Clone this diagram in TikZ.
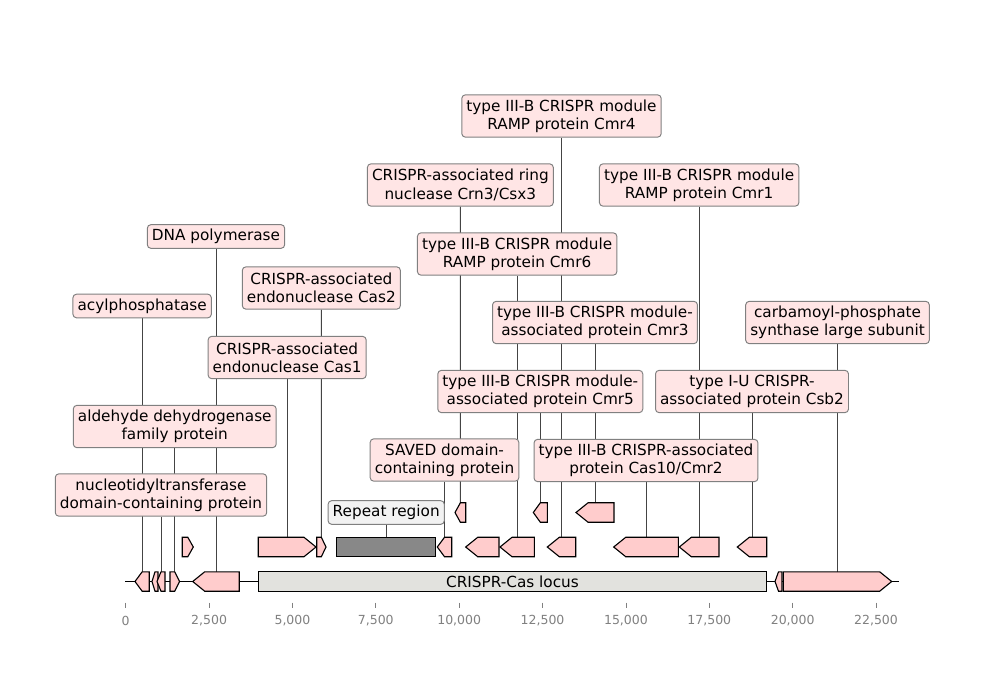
\documentclass[tikz,border=0pt]{standalone}
\usepackage{fontspec}
\setmainfont{DejaVu Sans}
\pgfdeclarelayer{background}
\pgfsetlayers{background,main}
\definecolor{genefill}{HTML}{FFCCCC}
\definecolor{labfill}{HTML}{FFE5E5}
\definecolor{labedge}{HTML}{808080}
\definecolor{repfill}{HTML}{888888}
\definecolor{replab}{HTML}{F2F2F2}
\definecolor{locusfill}{HTML}{E2E2DE}
\definecolor{conncol}{HTML}{444444}
\definecolor{tickcol}{HTML}{808080}
\tikzset{
  lab/.style={draw=labedge, fill=labfill, rounded corners=2.5pt, inner xsep=3.3pt, inner ysep=0pt,
    align=center, font=\fontsize{11}{13.2}\selectfont, line width=0.7pt},
  labone/.style={lab, minimum height=17pt},
  labtwo/.style={lab, minimum height=30.4pt},
  gene/.style={draw=black, fill=genefill, line width=0.8pt, line join=miter},
  conn/.style={draw=conncol, line width=0.6pt},
  ticklab/.style={text=tickcol, font=\fontsize{9}{10}\selectfont, inner sep=0pt},
}
\newcommand{\geneL}[4]{%
  \pgfmathsetmacro\gHd{min(12,0.5*(#3-#2))}%
  \draw[gene] (#3,#4-9.7) -- ({#2+\gHd},#4-9.7) -- (#2,#4) -- ({#2+\gHd},#4+9.7) -- (#3,#4+9.7) -- cycle;
  \coordinate (#1) at ({(#2+#3)/2},#4-9.7);}
\newcommand{\geneR}[4]{%
  \pgfmathsetmacro\gHd{min(12,0.5*(#3-#2))}%
  \draw[gene] (#2,#4-9.7) -- ({#3-\gHd},#4-9.7) -- (#3,#4) -- ({#3-\gHd},#4+9.7) -- (#2,#4+9.7) -- cycle;
  \coordinate (#1) at ({(#2+#3)/2},#4-9.7);}
\begin{document}
\begin{tikzpicture}[x=0.72pt,y=-0.72pt]
\useasboundingbox (0,0) rectangle (1000,680);

% labels
\node[labone] (L1) at (142.15,306) {acylphosphatase};
\node[labtwo] (L2) at (161,495) {nucleotidyltransferase\\domain-containing protein};
\node[labtwo] (L3) at (174.75,426.5) {aldehyde dehydrogenase\\family protein};
\node[labone] (L4) at (216,236.5) {DNA polymerase};
\node[labtwo] (L5) at (287.15,357.5) {CRISPR-associated\\endonuclease Cas1};
\node[labtwo] (L6) at (321.35,288) {CRISPR-associated\\endonuclease Cas2};
\node[labone, fill=replab] (L7) at (386.2,512.5) {Repeat region};
\node[labtwo] (L8) at (444.5,460) {SAVED domain-\\containing protein};
\node[labtwo] (L9) at (460.35,185) {CRISPR-associated ring\\nuclease Crn3/Csx3};
\node[labtwo] (L10) at (517.15,254) {type III-B CRISPR module\\RAMP protein Cmr6};
\node[labtwo] (L11) at (561.5,116) {type III-B CRISPR module\\RAMP protein Cmr4};
\node[labtwo] (L12) at (540.3,391.5) {type III-B CRISPR module-\\associated protein Cmr5};
\node[labtwo] (L13) at (595,322.5) {type III-B CRISPR module-\\associated protein Cmr3};
\node[labtwo] (L14) at (646,460.5) {type III-B CRISPR-associated\\protein Cas10/Cmr2};
\node[labtwo] (L15) at (699.15,185) {type III-B CRISPR module\\RAMP protein Cmr1};
\node[labtwo] (L16) at (752,391.5) {type I-U CRISPR-\\associated protein Csb2};
\node[labtwo] (L17) at (837.5,322.5) {carbamoyl-phosphate\\synthase large subunit};

% backbone
\draw[line width=1.3pt] (125,581.5) -- (899,581.5);

% bottom row
\geneL{b1}{135}{149.3}{581.5}
\geneL{b2}{152}{158}{581.5}
\geneL{b3}{157}{165}{581.5}
\geneR{b4}{170}{179.5}{581.5}
\geneL{b5}{192.7}{239.3}{581.5}
\draw[draw=black, fill=locusfill, line width=0.8pt] (258.3,571.8) rectangle (766.7,591.2);
\node[font=\fontsize{11}{13.2}\selectfont, inner sep=0pt] (locus) at (512.5,581.5) {CRISPR-Cas locus};
\geneL{b7}{775}{782}{581.5}
\geneR{b8}{783.3}{891.7}{581.5}

% middle row
\geneR{m1}{182.3}{193.3}{547}
\geneR{m2}{258.3}{316}{547}
\geneR{m3}{316.7}{326}{547}
\draw[draw=black, fill=repfill, line width=0.8pt] (336.7,537.3) rectangle (435.7,556.7);
\coordinate (rep) at (386.2,537.3);
\geneL{m5}{437.3}{451.7}{547}
\geneL{m6}{465.7}{499}{547}
\geneL{m7}{500}{534.3}{547}
\geneL{m8}{547.3}{575.7}{547}
\geneL{m9}{613.7}{678.3}{547}
\geneL{m10}{679.3}{719}{547}
\geneL{m11}{737.3}{766.7}{547}

% upper row
\geneL{u1}{455}{465.7}{512.5}
\geneL{u2}{533.3}{547.3}{512.5}
\geneL{u3}{576}{614}{512.5}

% connectors
\begin{pgfonlayer}{background}
\draw[conn] (L1) -- (b1);
\draw[conn] (L2) -- (b3);
\draw[conn] (L3) -- (b4);
\draw[conn] (L4) -- (b5);
\draw[conn] (L5) -- (m2);
\draw[conn] (L6) -- (m3);
\draw[conn] (L7) -- (rep);
\draw[conn] (L8) -- (m5);
\draw[conn] (L9) -- (u1);
\draw[conn] (L10) -- (m7);
\draw[conn] (L11) -- (m8);
\draw[conn] (L12) -- (u2);
\draw[conn] (L13) -- (u3);
\draw[conn] (L14) -- (m9);
\draw[conn] (L15) -- (m10);
\draw[conn] (L16) -- (m11);
\draw[conn] (L17) -- (b8);
\end{pgfonlayer}

% axis
\foreach \k/\t in {0/0,1/{2,500},2/{5,000},3/{7,500},4/{10,000},5/{12,500},6/{15,000},7/{17,500},8/{20,000},9/{22,500}}{
  \pgfmathsetmacro\tx{125.7+83.37*\k}
  \draw[tickcol, line width=0.6pt] (\tx,602.5) -- (\tx,607.5);
  \node[ticklab] (t\k) at (\tx,621) {\t};
}
\end{tikzpicture}
\end{document}
